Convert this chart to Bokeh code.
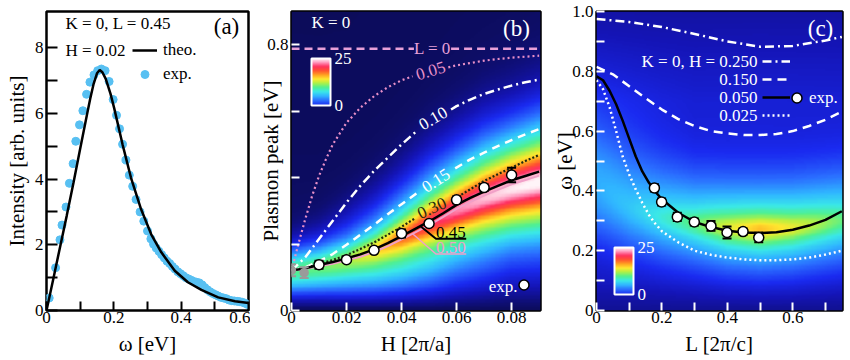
import numpy as np
from bokeh.plotting import figure
from bokeh.models import (Range1d, FixedTicker, Label, Legend, LegendItem,
                          ColorBar, LinearColorMapper, ColumnDataSource)
from bokeh.layouts import row
from bokeh.embed import file_html
from bokeh.resources import INLINE

SERIF = "Liberation Serif"
NAN = float("nan")

# ------------------------------------------------------------------ data (a)
a_exp_omega = [0.008, 0.027, 0.040, 0.046, 0.058, 0.068, 0.079, 0.087, 0.098, 0.108,
               0.119, 0.129, 0.141, 0.152, 0.163, 0.174, 0.186, 0.198, 0.208, 0.217,
               0.226, 0.236, 0.246, 0.256, 0.266, 0.278, 0.289, 0.300, 0.310, 0.318,
               0.326, 0.334, 0.342, 0.350, 0.358, 0.366, 0.374, 0.382, 0.390, 0.398,
               0.406, 0.414, 0.422, 0.430, 0.438, 0.446, 0.454, 0.462, 0.470, 0.478,
               0.486, 0.494, 0.502, 0.510, 0.518, 0.526, 0.534, 0.542, 0.550, 0.558,
               0.566, 0.574, 0.582, 0.590, 0.598]
a_exp_int = [0.38, 1.30, 2.15, 2.60, 3.15, 3.87, 4.47, 5.15, 5.65, 6.08,
             6.58, 6.95, 7.17, 7.30, 7.35, 7.30, 6.97, 6.42, 5.94, 5.53,
             5.06, 4.58, 4.12, 3.78, 3.38, 3.00, 2.72, 2.42, 2.18, 2.02,
             1.90, 1.80, 1.70, 1.60, 1.50, 1.43, 1.34, 1.26, 1.18, 1.12,
             1.06, 1.00, 0.96, 0.92, 0.88, 0.86, 0.84, 0.78, 0.70, 0.63,
             0.57, 0.52, 0.48, 0.44, 0.40, 0.38, 0.36, 0.32, 0.30, 0.29,
             0.28, 0.27, 0.25, 0.22, 0.18]
a_theo_omega = [0.0, 0.02, 0.04, 0.06, 0.08, 0.10, 0.12, 0.13, 0.14, 0.15, 0.158, 0.166,
                0.176, 0.19, 0.201, 0.226, 0.251, 0.281, 0.311, 0.341, 0.381, 0.42,
                0.46, 0.51, 0.56, 0.60]
a_theo_int = [0.0, 0.95, 1.92, 2.88, 3.88, 4.92, 5.95, 6.45, 6.90, 7.22, 7.32, 7.25,
              7.05, 6.60, 6.16, 5.05, 4.04, 3.08, 2.32, 1.77, 1.21, 0.86,
              0.63, 0.40, 0.28, 0.23]

# ------------------------------------------------------------------ data (b)
b_L000_H = [0.0, 0.0445, NAN, 0.058, 0.0905]
b_L000_w = [0.788, 0.788, NAN, 0.788, 0.788]
b_L005_H = [0.0, 0.0025, 0.005, 0.0075, 0.01, 0.0125, 0.015, 0.02, 0.025, 0.03, 0.035,
            0.04, 0.044, NAN, 0.057, 0.06, 0.065, 0.07, 0.075, 0.08, 0.085, 0.09]
b_L005_w = [0.12, 0.20, 0.275, 0.345, 0.405, 0.455, 0.50, 0.565, 0.61, 0.645, 0.672,
            0.693, 0.705, NAN, 0.732, 0.738, 0.745, 0.752, 0.757, 0.761, 0.764, 0.767]
b_L010_H = [0.0, 0.005, 0.01, 0.015, 0.02, 0.025, 0.03, 0.035, 0.04, 0.0455, NAN,
            0.058, 0.06, 0.065, 0.07, 0.075, 0.08, 0.085, 0.09]
b_L010_w = [0.12, 0.16, 0.215, 0.27, 0.325, 0.375, 0.42, 0.46, 0.50, 0.54, NAN,
            0.605, 0.615, 0.635, 0.652, 0.665, 0.677, 0.687, 0.695]
b_L015_H = [0.0, 0.005, 0.01, 0.015, 0.02, 0.025, 0.03, 0.035, 0.04, 0.0455, NAN,
            0.0595, 0.065, 0.07, 0.075, 0.08, 0.085, 0.09]
b_L015_w = [0.12, 0.13, 0.148, 0.17, 0.198, 0.228, 0.258, 0.29, 0.32, 0.353, NAN,
            0.428, 0.455, 0.475, 0.495, 0.513, 0.53, 0.546]
b_L030_H = [0.0, 0.005, 0.01, 0.015, 0.02, 0.025, 0.03, 0.035, 0.04, 0.045, NAN,
            0.058, 0.06, 0.065, 0.07, 0.075, 0.08, 0.085, 0.09]
b_L030_w = [0.12, 0.128, 0.14, 0.152, 0.167, 0.185, 0.205, 0.228, 0.252, 0.278, NAN,
            0.33, 0.34, 0.365, 0.39, 0.41, 0.43, 0.45, 0.468]
b_L045_H = [0.0, 0.005, 0.01, 0.015, 0.02, 0.025, 0.03, 0.035, 0.04, 0.045, 0.05,
            0.055, 0.06, 0.065, 0.07, 0.075, 0.08, 0.085, 0.09]
b_L045_w = [0.12, 0.127, 0.137, 0.146, 0.157, 0.169, 0.184, 0.203, 0.224, 0.246, 0.268,
            0.292, 0.318, 0.339, 0.358, 0.375, 0.392, 0.405, 0.418]
b_L050_w = [0.12, 0.125, 0.133, 0.141, 0.151, 0.162, 0.176, 0.194, 0.214, 0.235, 0.257,
            0.281, 0.306, 0.327, 0.346, 0.363, 0.380, 0.393, 0.406]
b_exp_H = [0.01, 0.02, 0.03, 0.04, 0.05, 0.06, 0.07, 0.08]
b_exp_w = [0.138, 0.153, 0.181, 0.232, 0.262, 0.333, 0.370, 0.408]
b_exp_err = [0.012, 0.006, 0.006, 0.012, 0.006, 0.010, 0.010, 0.022]
b_gray_H = [0.0, 0.0046]
b_gray_w = [0.121, 0.114]
b_gray_err = [0.018, 0.016]
b_lead45_H = [0.047, 0.0525, 0.0635]
b_lead45_w = [0.253, 0.216, 0.216]
b_lead50_H = [0.044, 0.0525, 0.0635]
b_lead50_w = [0.231, 0.170, 0.170]
# spectral-weight map (b): ridge centre, peak, core width, spread, low-energy glow along H
b_map_H = [0.0, 0.01, 0.02, 0.03, 0.04, 0.05, 0.06, 0.07, 0.08, 0.09]
b_map_center = [0.12, 0.134, 0.154, 0.182, 0.22, 0.262, 0.302, 0.337, 0.365, 0.385]
b_map_peak = [0.36, 0.40, 0.48, 0.60, 0.74, 0.83, 0.89, 0.93, 0.96, 0.98]
b_map_width = [0.06, 0.055, 0.05, 0.05, 0.05, 0.055, 0.06, 0.065, 0.07, 0.075]
b_map_spread = [0.09, 0.11, 0.14, 0.16, 0.18, 0.20, 0.21, 0.22, 0.22, 0.23]
b_map_glow = [0.16, 0.15, 0.13, 0.11, 0.09, 0.07, 0.05, 0.04, 0.03, 0.03]

# ------------------------------------------------------------------ data (c)
c_H250_L = [0.0, 0.1, 0.2, 0.3, 0.4, 0.5, 0.6, 0.7, 0.75]
c_H250_w = [0.975, 0.965, 0.948, 0.925, 0.90, 0.882, 0.885, 0.903, 0.915]
c_H150_L = [0.0, 0.05, 0.1, 0.15, 0.2, 0.25, 0.3, 0.35, 0.4, 0.45, 0.5, 0.55, 0.6, 0.65, 0.7, 0.75]
c_H150_w = [0.815, 0.79, 0.75, 0.71, 0.672, 0.64, 0.617, 0.60, 0.592, 0.587, 0.587, 0.59,
            0.60, 0.617, 0.638, 0.665]
c_L = [0.0, 0.02, 0.04, 0.06, 0.08, 0.1, 0.12, 0.14, 0.16, 0.18, 0.2, 0.25, 0.3, 0.35,
       0.4, 0.45, 0.5, 0.55, 0.6, 0.65, 0.7, 0.75]
c_H050_w = [0.783, 0.77, 0.735, 0.69, 0.635, 0.575, 0.515, 0.465, 0.428, 0.397, 0.372,
            0.327, 0.296, 0.279, 0.267, 0.261, 0.259, 0.262, 0.27, 0.284, 0.303, 0.332]
c_H025_w = [0.77, 0.74, 0.68, 0.60, 0.515, 0.455, 0.405, 0.36, 0.32, 0.29, 0.265,
            0.228, 0.20, 0.186, 0.177, 0.171, 0.168, 0.168, 0.171, 0.177, 0.187, 0.20]
c_exp_L = [0.177, 0.199, 0.247, 0.299, 0.350, 0.399, 0.448, 0.496]
c_exp_w = [0.41, 0.363, 0.313, 0.296, 0.283, 0.261, 0.264, 0.244]
c_exp_err = [0.012, 0.012, 0.014, 0.012, 0.016, 0.020, 0.010, 0.016]
# spectral-weight map (c)
c_map_L = [0.0, 0.1, 0.2, 0.3, 0.4, 0.5, 0.6, 0.75]
c_map_center = [0.40, 0.34, 0.31, 0.29, 0.275, 0.27, 0.275, 0.30]
c_map_narrow = [0.0, 0.03, 0.08, 0.15, 0.23, 0.30, 0.24, 0.14]
c_map_broad = [0.12, 0.16, 0.20, 0.22, 0.24, 0.24, 0.24, 0.23]
c_map_glow = [0.08, 0.05, 0.02, 0.0, 0.0, 0.0, 0.0, 0.0]
c_bg_omega = [0.0, 0.1, 0.3, 0.5, 0.7, 0.85, 1.0]
c_bg_level = [0.10, 0.14, 0.17, 0.18, 0.18, 0.15, 0.12]

# ------------------------------------------------------------------ palette
anchors = [(0.00, "#0a0a48"), (0.06, "#0e0e70"), (0.14, "#1414b4"), (0.22, "#1a2af0"),
           (0.30, "#2a6cff"), (0.38, "#30b8ff"), (0.45, "#3ae8e8"), (0.52, "#50f090"),
           (0.60, "#b8f040"), (0.66, "#ffe830"), (0.73, "#ffa020"), (0.80, "#ff5030"),
           (0.87, "#ff3060"), (0.93, "#ff90b8"), (1.00, "#fff4f8")]
pos = np.array([a[0] for a in anchors])
rgb = np.array([[int(a[1][i:i + 2], 16) for i in (1, 3, 5)] for a in anchors], float)
t = np.linspace(0, 1, 256)
palette = ["#%02x%02x%02x" % tuple(int(round(np.interp(v, pos, rgb[:, k]))) for k in range(3))
           for v in t]
map_mapper = LinearColorMapper(palette=palette, low=0, high=1)
bar_mapper = LinearColorMapper(palette=palette[56:], low=0, high=25)

XB, YB = 0.0905, 0.9
XC, YC = 0.752, 1.0

# map (b)
hg = np.linspace(0, XB, 200)
wg = np.linspace(0, YB, 220)
HH, WW = np.meshgrid(hg, wg)
cen = np.interp(HH, b_map_H, b_map_center)
pk = np.interp(HH, b_map_H, b_map_peak)
wd = np.interp(HH, b_map_H, b_map_width)
sp = np.interp(HH, b_map_H, b_map_spread)
gl = np.interp(HH, b_map_H, b_map_glow)
dd = WW - cen
shape = 0.5 / (1 + (dd / wd) ** 2) + 0.5 * np.exp(-(dd / sp) ** 2)
img_b = 0.03 + (pk * shape + gl * np.exp(-((WW - 0.09) / 0.09) ** 2)) * (1 - np.exp(-WW / 0.035))
img_b = np.clip(img_b, 0, 1)

# map (c)
lg = np.linspace(0, XC, 200)
wg2 = np.linspace(0, YC, 240)
LL, W2 = np.meshgrid(lg, wg2)
cc = np.interp(LL, c_map_L, c_map_center)
nar = np.interp(LL, c_map_L, c_map_narrow)
brd = np.interp(LL, c_map_L, c_map_broad)
glw = np.interp(LL, c_map_L, c_map_glow)
bgl = np.interp(W2, c_bg_omega, c_bg_level)
img_c = bgl + (nar / (1 + ((W2 - cc) / 0.05) ** 2) + brd * np.exp(-((W2 - cc) / 0.18) ** 2)) \
    * (1 - np.exp(-W2 / 0.06)) + glw * np.exp(-((W2 - 0.5) / 0.3) ** 2)
img_c = np.clip(img_c, 0, 1)


# ------------------------------------------------------------------ helpers
def make_fig(width, left, right, xr, yr, bg):
    p = figure(width=width, height=358, x_range=Range1d(*xr), y_range=Range1d(*yr),
               output_backend="svg", toolbar_location=None,
               min_border_left=left, min_border_right=right, min_border_top=11,
               min_border_bottom=46, background_fill_color=bg, border_fill_color="white",
               outline_line_color="black", outline_line_width=2.5)
    p.xgrid.visible = False
    p.ygrid.visible = False
    return p


def style_axis(ax, ticks, minor, color, length, overrides, title, title_standoff,
               label_standoff=3):
    ax.ticker = FixedTicker(ticks=ticks, minor_ticks=minor)
    ax.axis_line_color = None
    ax.major_tick_in = length
    ax.major_tick_out = 0
    ax.minor_tick_in = length
    ax.minor_tick_out = 0
    ax.major_tick_line_color = color
    ax.minor_tick_line_color = color
    ax.major_tick_line_width = 2
    ax.minor_tick_line_width = 2
    ax.major_label_text_font = SERIF
    ax.major_label_text_font_size = "17px"
    ax.major_label_text_color = "black"
    ax.major_label_standoff = label_standoff
    ax.major_label_overrides = overrides
    ax.axis_label = title
    ax.axis_label_text_font = SERIF
    ax.axis_label_text_font_size = "21px"
    ax.axis_label_text_font_style = "normal"
    ax.axis_label_text_color = "black"
    ax.axis_label_standoff = title_standoff


def text(p, x, y, s, size="17px", color="black", align="left", baseline="middle",
         angle=0, units="screen"):
    p.add_layout(Label(x=x, y=y, x_units=units, y_units=units, text=s, text_font=SERIF,
                       text_font_size=size, text_color=color, text_align=align,
                       text_baseline=baseline, angle=angle, angle_units="deg"))


def errorbars(p, xs, ys, errs, color, fill, size):
    src = ColumnDataSource(dict(x=xs, y=ys, lo=[a - b for a, b in zip(ys, errs)],
                                hi=[a + b for a, b in zip(ys, errs)]))
    p.segment(x0="x", y0="lo", x1="x", y1="hi", source=src, line_color=color, line_width=2)
    p.scatter("x", "lo", source=src, marker="dash", size=9, line_color=color, line_width=2)
    p.scatter("x", "hi", source=src, marker="dash", size=9, line_color=color, line_width=2)
    return p.scatter("x", "y", source=src, marker="circle", size=size, fill_color=fill,
                     line_color=color, line_width=1.5)


def legend(p, items, loc, gw, gh, spacing, color="black", standoff=6):
    lg_ = Legend(items=items, location=loc, glyph_width=gw, glyph_height=gh,
                 label_height=gh, label_width=0, spacing=spacing, padding=0, margin=0,
                 label_standoff=standoff, border_line_color=None,
                 background_fill_alpha=0, label_text_font=SERIF,
                 label_text_font_size="17px", label_text_color=color)
    p.add_layout(lg_)


def colorbar(p, loc):
    p.add_layout(ColorBar(color_mapper=bar_mapper, ticker=FixedTicker(ticks=[0, 25]),
                          location=loc, width=19, height=47, padding=0,
                          background_fill_alpha=0, border_line_color=None,
                          bar_line_color="white", bar_line_width=2,
                          major_tick_line_color=None, minor_tick_line_color=None,
                          major_label_text_color="white", major_label_text_font=SERIF,
                          major_label_text_font_size="17px", label_standoff=4))


# ------------------------------------------------------------------ panel (a)
pa = make_fig(250, 46, 2, (0, 0.6), (0, 9.1), "white")
style_axis(pa.xaxis[0], [0, 0.2, 0.4, 0.6], [0.1, 0.3, 0.5], "black", 9, {0: "0"},
           "ω [eV]", 6, 1)
style_axis(pa.yaxis[0], [0, 2, 4, 6, 8], [1, 3, 5, 7], "black", 11, {},
           "Intensity [arb. units]", 3)
r_exp_a = pa.scatter(a_exp_omega, a_exp_int, size=8, color="#58c0f2")
r_theo_a = pa.line(a_theo_omega, a_theo_int, line_color="black", line_width=2.5)
legend(pa, [LegendItem(label="theo.", renderers=[r_theo_a]),
            LegendItem(label="exp.", renderers=[r_exp_a])], (86, 226), 25, 20, 4)
text(pa, 19, 287, "K = 0, L = 0.45")
text(pa, 19, 260, "H = 0.02")
text(pa, 180, 284, "(a)", size="23px", align="center")

# ------------------------------------------------------------------ panel (b)
pb = make_fig(292, 41, 2, (0, XB), (0, YB), "#0c0c5c")
pb.image(image=[img_b], x=0, y=0, dw=XB, dh=YB, color_mapper=map_mapper)
style_axis(pb.xaxis[0], [0, 0.02, 0.04, 0.06, 0.08], [], "white", 8, {0: "0"},
           "H [2π/a]", 6, 1)
style_axis(pb.yaxis[0], [0, 0.8], [0.2, 0.4, 0.6], "white", 8, {0: "0"},
           "Plasmon peak [eV]", -19)
pb.line(b_L000_H, b_L000_w, line_color="#e8a0d8", line_width=2.5, line_dash="8 5")
pb.line(b_L005_H, b_L005_w, line_color="#e890c8", line_width=2.2, line_dash="2 3")
pb.line(b_L010_H, b_L010_w, line_color="white", line_width=2.5, line_dash="9 4 2 4")
pb.line(b_L015_H, b_L015_w, line_color="white", line_width=2.5, line_dash="8 6")
pb.line(b_L030_H, b_L030_w, line_color="#1e2a10", line_width=2.2, line_dash="2 2")
pb.line(b_L045_H, b_L050_w, line_color="#f0a0c8", line_width=2)
pb.line(b_L045_H, b_L045_w, line_color="black", line_width=2.5)
pb.line(b_lead45_H, b_lead45_w, line_color="black", line_width=2)
pb.line(b_lead50_H, b_lead50_w, line_color="#f0a0c8", line_width=1.5)
errorbars(pb, b_gray_H, b_gray_w, b_gray_err, "#9a9a9a", "#9a9a9a", 8)
r_exp_b = errorbars(pb, b_exp_H, b_exp_w, b_exp_err, "black", "white", 10)
legend(pb, [LegendItem(label=" ", renderers=[r_exp_b])], (220, 13), 25, 25, 0)
text(pb, 226, 24, "exp.", color="white", align="right")
text(pb, 20, 288, "K = 0", color="white")
text(pb, 225, 282, "(b)", size="23px", color="white", align="center")
text(pb, 0.0512, 0.788, "L = 0", color="#e8a0d8", align="center", units="data")
text(pb, 0.0506, 0.721, "0.05", color="#e890c8", align="center", angle=17, units="data")
text(pb, 0.0515, 0.578, "0.10", color="white", align="center", angle=30, units="data")
text(pb, 0.0525, 0.391, "0.15", color="white", align="center", angle=33, units="data")
text(pb, 0.0510, 0.308, "0.30", color="#1e2a10", align="center", angle=24, units="data")
text(pb, 0.0525, 0.219, "0.45", color="black", baseline="bottom", units="data")
text(pb, 0.0525, 0.173, "0.50", color="#f0a0c8", baseline="bottom", units="data")
colorbar(pb, (20, 205))

# ------------------------------------------------------------------ panel (c)
pc = make_fig(303, 54, 3, (0, XC), (0, YC), "#1616b8")
pc.image(image=[img_c], x=0, y=0, dw=XC, dh=YC, color_mapper=map_mapper)
style_axis(pc.xaxis[0], [0, 0.2, 0.4, 0.6], [0.1, 0.3, 0.5, 0.7], "white", 8, {0: "0"},
           "L [2π/c]", 6, 1)
style_axis(pc.yaxis[0], [0, 0.2, 0.4, 0.6, 0.8, 1.0], [0.1, 0.3, 0.5, 0.7, 0.9],
           "white", 8, {0: "0", 1: "1.0"}, "ω [eV]", -8)
r250 = pc.line(c_H250_L, c_H250_w, line_color="white", line_width=2.5, line_dash="9 4 2 4")
r150 = pc.line(c_H150_L, c_H150_w, line_color="white", line_width=2.5, line_dash="9 6")
r050 = pc.line(c_L, c_H050_w, line_color="black", line_width=2.5)
r025 = pc.line(c_L, c_H025_w, line_color="white", line_width=2.5, line_dash="2 3")
r_exp_c = errorbars(pc, c_exp_L, c_exp_w, c_exp_err, "black", "white", 10)
legend(pc, [LegendItem(label=" ", renderers=[r]) for r in (r250, r150, r050, r025)],
       (166, 187), 28, 16, 2)
legend(pc, [LegendItem(label="exp.", renderers=[r_exp_c])], (188, 200), 25, 25, 0,
       color="white", standoff=0)
for yy, s in [(249, "K = 0, H = 0.250"), (231, "0.150"), (213, "0.050"), (195, "0.025")]:
    text(pc, 161, yy, s, color="white", align="right")
text(pc, 224, 282, "(c)", size="23px", color="white", align="center")
colorbar(pc, (18, 16))

layout = row(pa, pb, pc)
open("out.html", "w").write(file_html(layout, INLINE))
